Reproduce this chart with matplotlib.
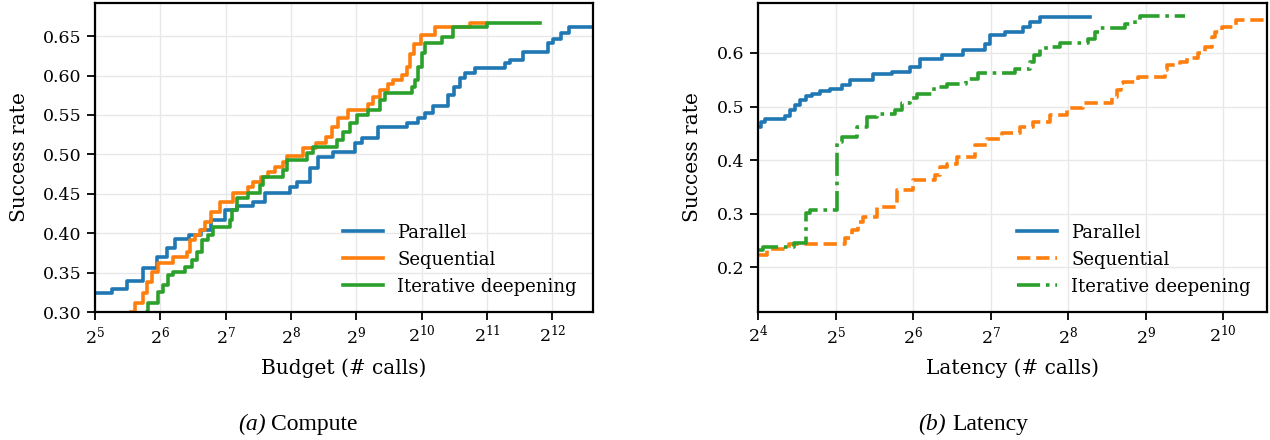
import numpy as np
import matplotlib
matplotlib.use("Agg")
import matplotlib.pyplot as plt
from matplotlib.ticker import LogLocator, LogFormatterMathtext, NullLocator

plt.rcParams['font.family'] = 'DejaVu Serif'
plt.rcParams['mathtext.fontset'] = 'dejavuserif'
plt.rcParams['font.size'] = 12.5

labels = ['Parallel', 'Sequential', 'Iterative deepening']

# (a) compute: budget (# calls) where each step starts, success rate after the step
budget_par = [32, 38.5, 45, 53, 61.5, 69, 74.5, 87, 99, 110, 127, 144, 171, 194, 253, 273,
              313, 340, 399, 505, 543, 644, 877, 983, 1058, 1157, 1359, 1435, 1543, 1629,
              1810, 2490, 2625, 2985, 3890, 4100, 4480, 4880, 6300]
rate_par = [0.3237, 0.3288, 0.3393, 0.3555, 0.3702, 0.3812, 0.3923, 0.3977, 0.4041, 0.4168,
            0.4294, 0.4345, 0.4400, 0.4506, 0.4590, 0.4654, 0.4824, 0.4971, 0.5034, 0.5141,
            0.5204, 0.5352, 0.5402, 0.5458, 0.5522, 0.5614, 0.5754, 0.5859, 0.5966, 0.6029,
            0.6093, 0.6156, 0.6198, 0.6303, 0.6410, 0.6461, 0.6537, 0.6621, 0.6621]

budget_seq = [47.0, 48.7, 53.0, 55.3, 58.4, 62.2, 73.0, 84.6, 87.4, 92.1, 97.2, 102.5, 109.3,
              120.2, 138, 162, 171, 186, 200, 216, 235, 245, 290, 334, 371, 395, 421, 469,
              580, 612, 659, 717, 756, 832, 878, 906, 946, 1019, 1182, 1715, 2055]
rate_seq = [0.3004, 0.3110, 0.3237, 0.3385, 0.3511, 0.3618, 0.3702, 0.3765, 0.3914, 0.3977,
            0.4041, 0.4146, 0.4273, 0.4400, 0.4506, 0.4590, 0.4654, 0.4717, 0.4780, 0.4844,
            0.4907, 0.4980, 0.5077, 0.5141, 0.5225, 0.5352, 0.5458, 0.5568, 0.5643, 0.5727,
            0.5812, 0.5896, 0.5939, 0.6002, 0.6108, 0.6277, 0.6404, 0.6510, 0.6616, 0.6667,
            0.6667]

budget_itd = [55.7, 55.9, 62.2, 65.6, 69.2, 73.0, 82.9, 89.3, 94.2, 99.3, 105.8, 111.6, 133.7,
              136.6, 144, 162, 184, 190, 235, 245, 303, 323, 416, 444, 477, 514, 578, 656,
              692, 922, 951, 983, 1027, 1059, 1268, 1425, 2045, 3590]
rate_itd = [0.3004, 0.3118, 0.3258, 0.3343, 0.3470, 0.3511, 0.3575, 0.3660, 0.3765, 0.3914,
            0.3977, 0.4083, 0.4168, 0.4294, 0.4443, 0.4506, 0.4612, 0.4717, 0.4802, 0.4929,
            0.5014, 0.5098, 0.5183, 0.5288, 0.5395, 0.5500, 0.5563, 0.5690, 0.5775, 0.5859,
            0.5944, 0.6113, 0.6283, 0.6410, 0.6494, 0.6621, 0.6671, 0.6671]

# (b) latency
lat_par = [16, 16.5, 17.1, 20.3, 21.3, 22.2, 23.2, 24.5, 25.9, 27.8, 30.4, 33.8, 36.3, 44.6,
           52.9, 62.1, 67.9, 82.7, 99.8, 121.5, 127, 145, 171, 182, 199, 311]
lrate_par = [0.4621, 0.4708, 0.4764, 0.4820, 0.4932, 0.5025, 0.5118, 0.5193, 0.5243, 0.5292,
             0.5336, 0.5398, 0.5491, 0.5603, 0.5646, 0.5739, 0.5877, 0.5957, 0.6050, 0.6175,
             0.6330, 0.6395, 0.6485, 0.6578, 0.6671, 0.6671]

lat_seq = [16, 17.4, 21.2, 34.7, 37.0, 39.0, 40.8, 46.3, 55.3, 63.8, 77.7, 81.3, 86.5, 94.6,
           111.1, 123.7, 141.5, 166.2, 186.7, 217.4, 253, 292, 378, 396, 410, 418, 478, 608,
           619, 695, 740, 817, 870, 926, 951, 1013, 1148, 1515]
lrate_seq = [0.2229, 0.2341, 0.2434, 0.2541, 0.2695, 0.2850, 0.2938, 0.3130, 0.3441, 0.3627,
             0.3720, 0.3875, 0.3938, 0.4061, 0.4280, 0.4404, 0.4498, 0.4610, 0.4714, 0.4839,
             0.4964, 0.5057, 0.5180, 0.5305, 0.5430, 0.5459, 0.5553, 0.5678, 0.5771, 0.5832,
             0.5896, 0.5989, 0.6112, 0.6298, 0.6391, 0.6485, 0.6610, 0.6610]

lat_itd = [16, 16.8, 22.0, 24.5, 25.4, 32.3, 33.8, 38.7, 42.3, 46.3, 54.3, 57.8, 62.1, 66.2,
           77.0, 86.5, 102.5, 114.2, 158.9, 181.7, 188.3, 198.8, 221.3, 237.7, 305, 325, 340,
           425, 465, 486, 727]
lrate_itd = [0.2322, 0.2384, 0.2459, 0.3007, 0.3068, 0.4341, 0.4434, 0.4621, 0.4807, 0.4870,
             0.4932, 0.5057, 0.5150, 0.5243, 0.5366, 0.5429, 0.5504, 0.5616, 0.5709, 0.5832,
             0.5957, 0.6082, 0.6112, 0.6187, 0.6268, 0.6391, 0.6473, 0.6535, 0.6610, 0.6684,
             0.6684]

colors = ['#1f77b4', '#ff7f0e', '#2ca02c']
lw = 2.6

fig = plt.figure(figsize=(12.7, 4.4), dpi=100)
fig.set_facecolor('white')
ax1 = fig.add_axes([95 / 1270, 128 / 440, 498 / 1270, 309 / 440])
ax2 = fig.add_axes([758 / 1270, 128 / 440, 509 / 1270, 309 / 440])


def style_axis(ax):
    ax.set_xscale('log', base=2)
    ax.xaxis.set_major_locator(LogLocator(base=2))
    ax.xaxis.set_major_formatter(LogFormatterMathtext(base=2))
    ax.xaxis.set_minor_locator(NullLocator())
    ax.grid(True, color='#e8e8e8', linewidth=1.0)
    ax.set_axisbelow(True)
    for s in ax.spines.values():
        s.set_linewidth(1.6)
        s.set_color('black')
    ax.tick_params(axis='both', which='major', length=6, width=1.3, labelsize=12.5,
                   direction='out', color='black')


# panel (a)
ax1.plot(budget_par, rate_par, drawstyle='steps-post', color=colors[0], lw=lw, label=labels[0])
ax1.plot(budget_seq, rate_seq, drawstyle='steps-post', color=colors[1], lw=lw, label=labels[1])
ax1.plot(budget_itd, rate_itd, drawstyle='steps-post', color=colors[2], lw=lw, label=labels[2])
style_axis(ax1)
ax1.set_xlim(32, 6300)
ax1.set_ylim(0.30, 0.692)
ax1.set_yticks(np.arange(0.30, 0.651, 0.05))
ax1.set_yticklabels(['%.2f' % v for v in np.arange(0.30, 0.651, 0.05)])
ax1.set_xlabel('Budget (# calls)', fontsize=14.5, labelpad=8)
ax1.set_ylabel('Success rate', fontsize=14.5, labelpad=10)
ax1.legend(loc='lower right', frameon=False, fontsize=13, handlelength=2.2)

# panel (b)
ax2.plot(lat_par, lrate_par, drawstyle='steps-post', color=colors[0], lw=lw,
         linestyle='-', label=labels[0])
ax2.plot(lat_seq, lrate_seq, drawstyle='steps-post', color=colors[1], lw=lw,
         linestyle='--', label=labels[1])
ax2.plot(lat_itd, lrate_itd, drawstyle='steps-post', color=colors[2], lw=lw,
         linestyle='-.', label=labels[2])
style_axis(ax2)
ax2.set_xlim(16, 1515)
ax2.set_ylim(0.117, 0.693)
ax2.set_yticks([0.2, 0.3, 0.4, 0.5, 0.6])
ax2.set_xlabel('Latency (# calls)', fontsize=14.5, labelpad=8)
ax2.set_ylabel('Success rate', fontsize=14.5, labelpad=11)
ax2.legend(loc='lower right', frameon=False, fontsize=13, handlelength=2.2)

# subfigure captions: italic tag then plain word
ycap = 1 - 424 / 440
fig.text(266 / 1270, ycap, '(a)', family='Liberation Serif', style='italic',
         fontsize=17, ha='right', va='center')
fig.text(271 / 1270, ycap, 'Compute', family='Liberation Serif',
         fontsize=17, ha='left', va='center')
fig.text(946 / 1270, ycap, '(b)', family='Liberation Serif', style='italic',
         fontsize=17, ha='right', va='center')
fig.text(952 / 1270, ycap, 'Latency', family='Liberation Serif',
         fontsize=17, ha='left', va='center')

fig.savefig('out.png', dpi=100, facecolor='white')
